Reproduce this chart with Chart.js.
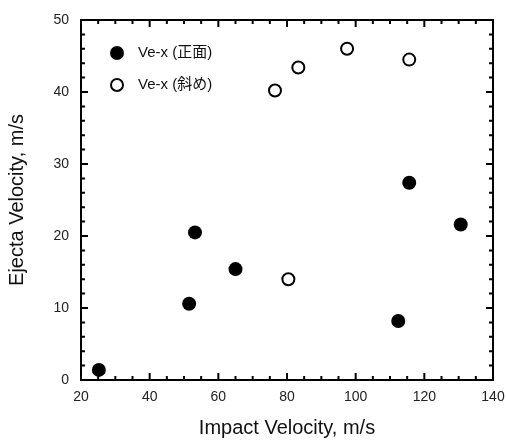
<!DOCTYPE html>
<html lang="ja">
<head>
<meta charset="UTF-8" />
<title>Ejecta Velocity</title>
<style>
  body { margin: 0; background: #fff; }
  #wrap { width: 506px; height: 441px; }
</style>
</head>
<body>
<div id="wrap"><canvas id="c"></canvas></div>
<script src="https://cdn.jsdelivr.net/npm/chart.js"></script>
<script>
// values
const frontX = [25.2, 51.5, 53.2, 65.0, 112.4, 115.6, 130.6];
const frontY = [1.4, 10.6, 20.5, 15.4, 8.2, 27.4, 21.6];
const obliqueX = [76.5, 80.4, 83.3, 97.5, 115.6];
const obliqueY = [40.2, 14.0, 43.4, 46.0, 44.5];
const labels = ['Ve-x (正面)', 'Ve-x (斜め)'];
const xTicks = [20, 40, 60, 80, 100, 120, 140];
const yTicks = [0, 10, 20, 30, 40, 50];

const FONT = '"Liberation Sans", Arial, "Noto Sans CJK JP", sans-serif';

function pts(xs, ys) {
  return xs.map((x, i) => ({ x: x, y: ys[i] }));
}

// frame + inward ticks on all four sides
const framePlugin = {
  id: 'frame',
  beforeDatasetsDraw(chart) {
    const ctx = chart.ctx;
    const a = chart.chartArea;
    const xs = chart.scales.x, ys = chart.scales.y;
    ctx.save();
    ctx.strokeStyle = '#000';
    ctx.lineWidth = 2;
    ctx.strokeRect(a.left, a.top, a.right - a.left, a.bottom - a.top);
    ctx.beginPath();
    for (let v = xs.min; v <= xs.max; v += 5) {
      const len = (v % 20 === 0) ? 7 : 4;
      const px = xs.getPixelForValue(v);
      ctx.moveTo(px, a.bottom); ctx.lineTo(px, a.bottom - len);
      ctx.moveTo(px, a.top); ctx.lineTo(px, a.top + len);
    }
    for (let v = ys.min; v <= ys.max; v += 2) {
      const len = (v % 10 === 0) ? 7 : 4;
      const py = ys.getPixelForValue(v);
      ctx.moveTo(a.left, py); ctx.lineTo(a.left + len, py);
      ctx.moveTo(a.right, py); ctx.lineTo(a.right - len, py);
    }
    ctx.stroke();
    ctx.restore();
  }
};

// legend inside the plot, top left
const insideLegend = {
  id: 'insideLegend',
  afterDraw(chart) {
    const ctx = chart.ctx;
    const a = chart.chartArea;
    ctx.save();
    ctx.font = '15px ' + FONT;
    ctx.textBaseline = 'middle';
    chart.data.datasets.forEach((ds, i) => {
      const cx = a.left + 36;
      const cy = a.top + 33 + i * 32;
      ctx.beginPath();
      ctx.arc(cx, cy, ds.pointRadius, 0, Math.PI * 2);
      ctx.fillStyle = ds.backgroundColor;
      ctx.fill();
      if (ds.borderWidth) {
        ctx.lineWidth = ds.borderWidth;
        ctx.strokeStyle = ds.borderColor;
        ctx.stroke();
      }
      ctx.fillStyle = '#111';
      ctx.fillText(ds.label, a.left + 57, cy);
    });
    ctx.restore();
  }
};

new Chart(document.getElementById('c'), {
  type: 'scatter',
  data: {
    datasets: [
      {
        label: labels[0],
        data: pts(frontX, frontY),
        backgroundColor: '#000',
        borderColor: '#000',
        borderWidth: 0,
        pointRadius: 7,
        pointHoverRadius: 7
      },
      {
        label: labels[1],
        data: pts(obliqueX, obliqueY),
        backgroundColor: '#fff',
        borderColor: '#000',
        borderWidth: 2,
        pointRadius: 6,
        pointHoverRadius: 6
      }
    ]
  },
  plugins: [framePlugin, insideLegend],
  options: {
    responsive: true,
    maintainAspectRatio: false,
    animation: false,
    clip: false,
    layout: { padding: { top: 20, right: 13, left: 0, bottom: 0 } },
    plugins: {
      legend: { display: false },
      tooltip: { enabled: false }
    },
    scales: {
      x: {
        type: 'linear',
        min: 20,
        max: 140,
        afterBuildTicks(s) { s.ticks = xTicks.map(v => ({ value: v })); },
        afterFit(s) { s.height = 61; s.paddingLeft = 0; s.paddingRight = 0; },
        grid: { display: false, drawTicks: false },
        border: { display: false },
        ticks: {
          padding: 9,
          maxRotation: 0,
          autoSkip: false,
          color: '#222',
          font: { family: FONT, size: 14 }
        },
        title: {
          display: true,
          text: 'Impact Velocity, m/s',
          color: '#111',
          padding: { top: 0, bottom: 1 },
          font: { family: FONT, size: 20 }
        }
      },
      y: {
        type: 'linear',
        min: 0,
        max: 50,
        afterBuildTicks(s) { s.ticks = yTicks.map(v => ({ value: v })); },
        afterFit(s) { s.width = 81; s.paddingTop = 0; s.paddingBottom = 0; },
        grid: { display: false, drawTicks: false },
        border: { display: false },
        ticks: {
          padding: 12,
          autoSkip: false,
          color: '#222',
          font: { family: FONT, size: 14 }
        },
        title: {
          display: true,
          text: 'Ejecta Velocity, m/s',
          color: '#111',
          padding: { top: 5, bottom: 0 },
          font: { family: FONT, size: 20 }
        }
      }
    }
  }
});
</script>
</body>
</html>
